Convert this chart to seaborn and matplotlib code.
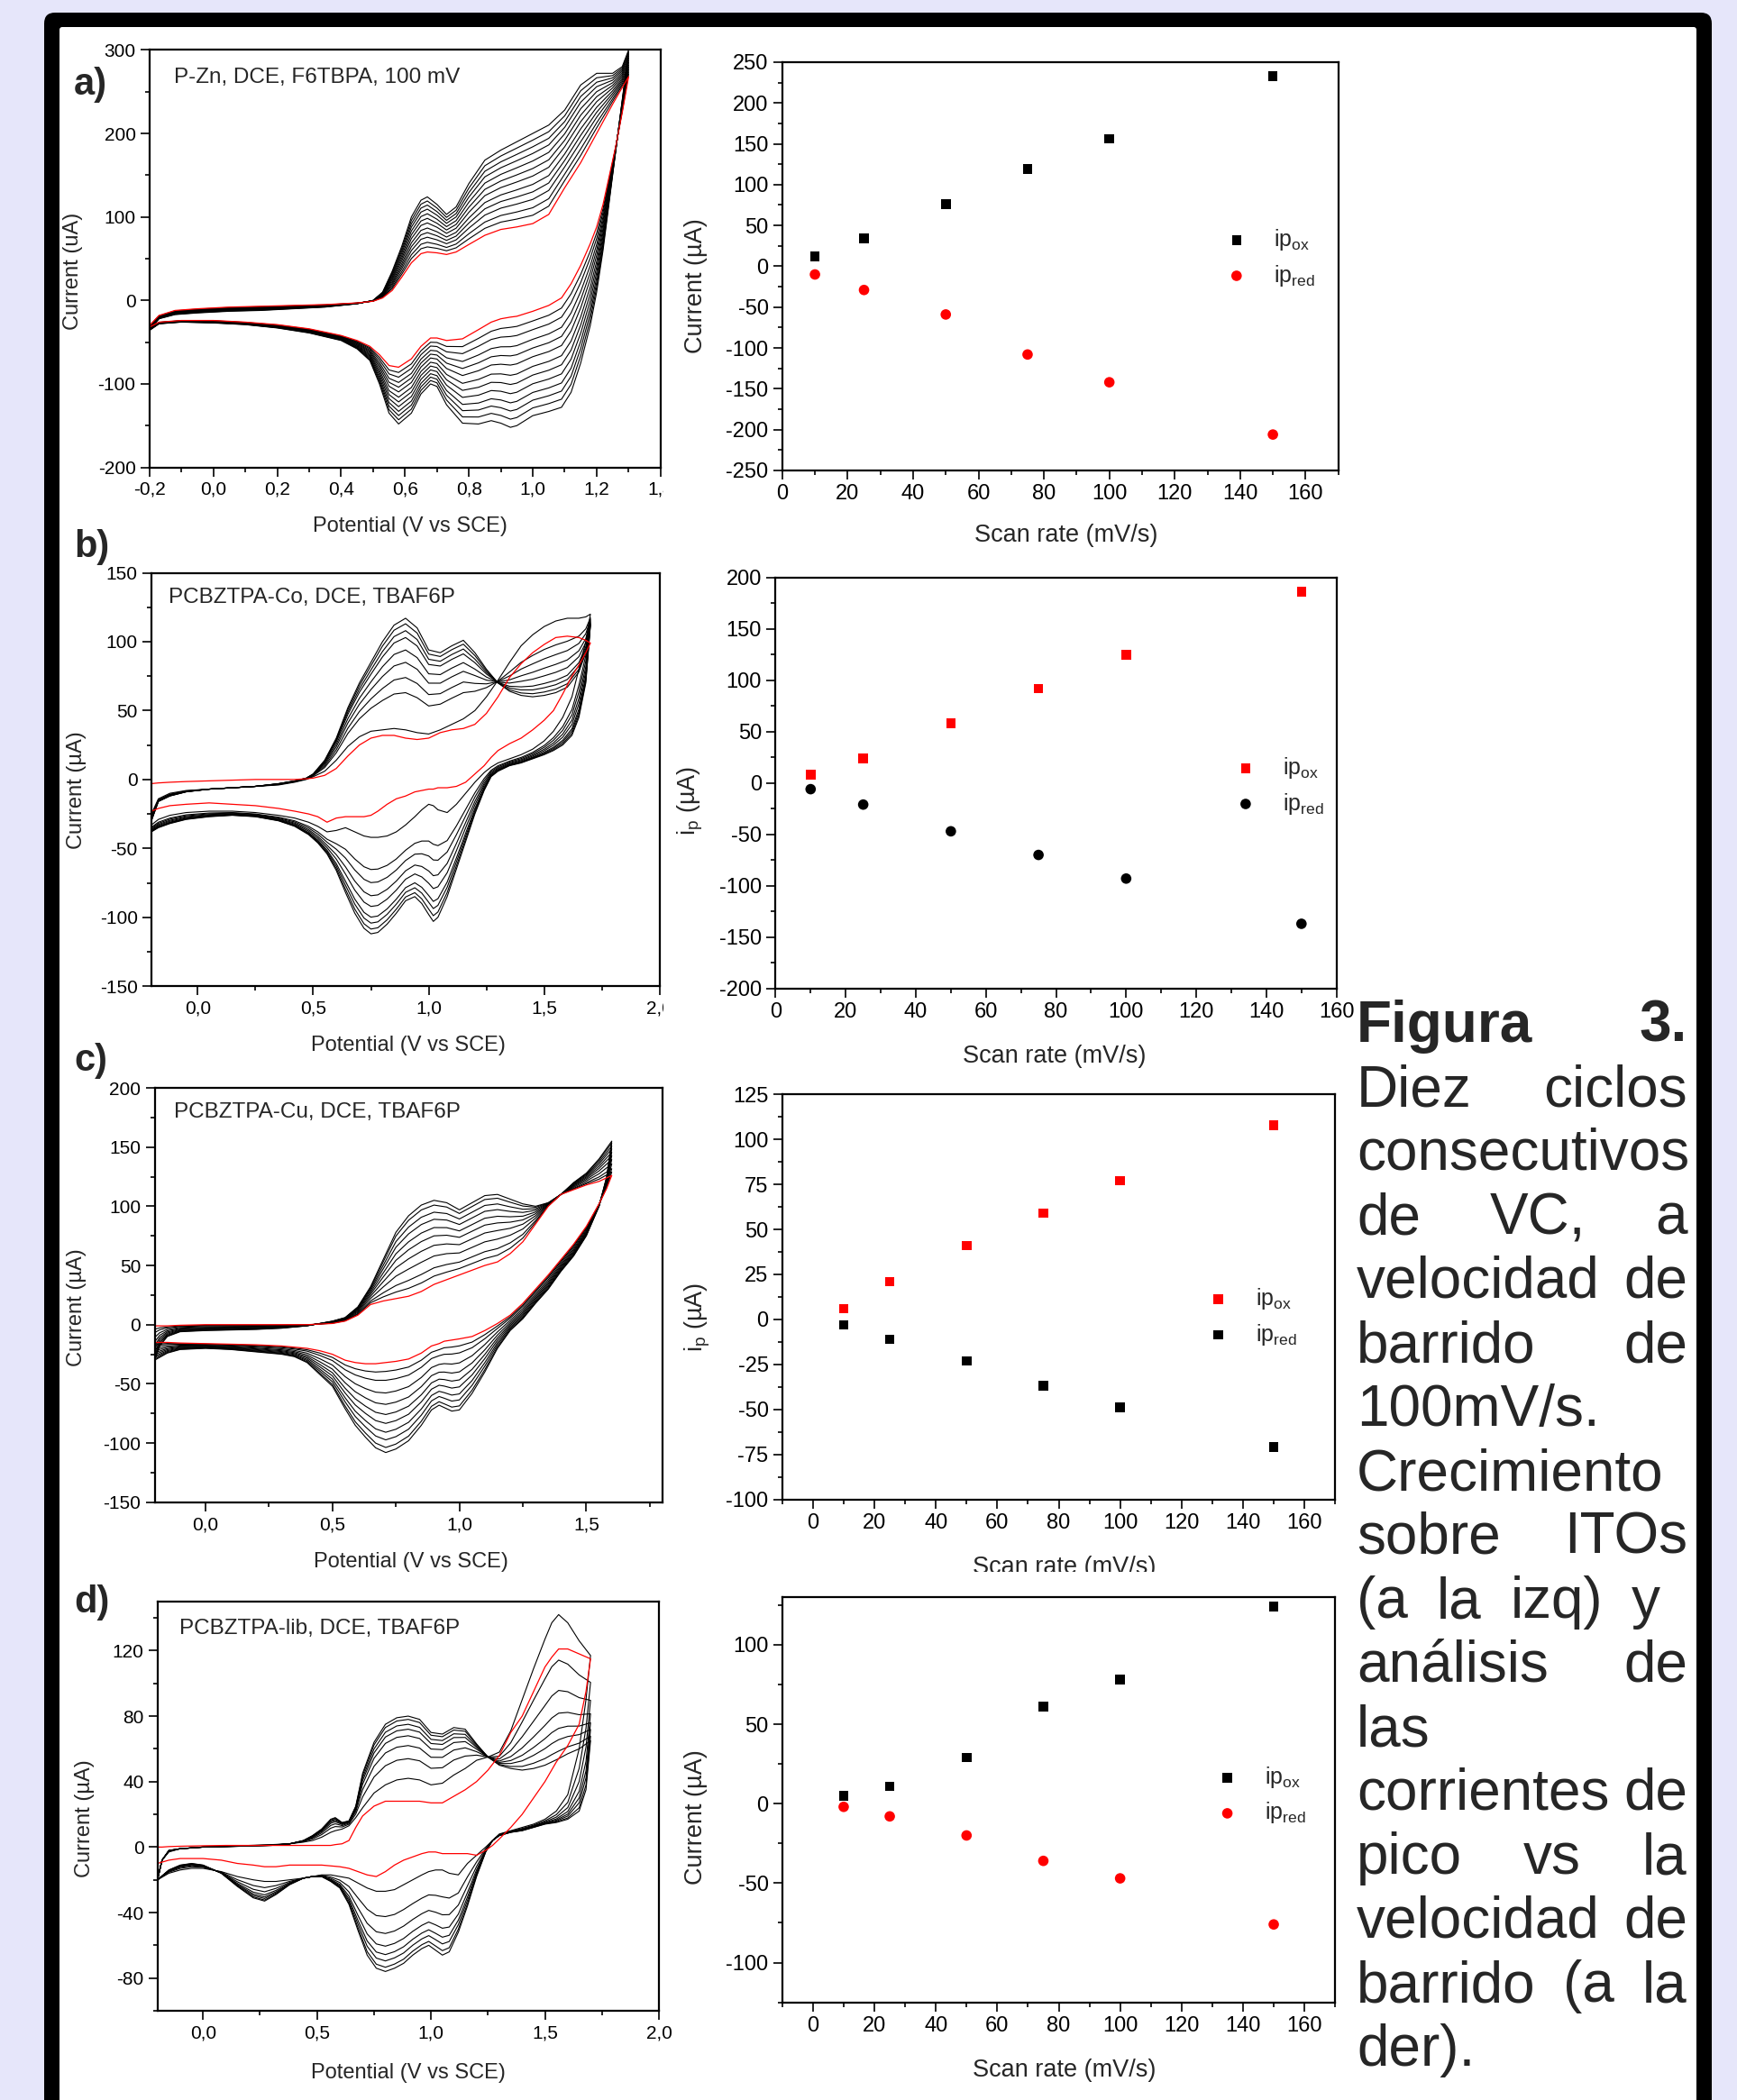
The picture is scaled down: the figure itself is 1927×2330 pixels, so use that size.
import numpy as np
import pandas as pd
import matplotlib
matplotlib.use("Agg")
import matplotlib.pyplot as plt
import seaborn as sns
from matplotlib.ticker import FixedLocator, FuncFormatter
from matplotlib.patches import FancyBboxPatch
from matplotlib.transforms import IdentityTransform, Bbox

# ------------------------------------------------------------------ data
# ---- panel a : P-Zn CV (red = first cycle, outer = last cycle)
Ea_fwd = [-0.20, -0.17, -0.12, -0.05, 0.05, 0.15, 0.25, 0.35, 0.45, 0.50, 0.53, 0.56, 0.59, 0.62, 0.65, 0.67,
          0.70, 0.73, 0.76, 0.80, 0.85, 0.90, 0.95, 1.00, 1.05, 1.10, 1.15, 1.20, 1.25, 1.28, 1.30]
Ia_first_fwd = [-30, -18, -12, -10, -8, -7, -6, -5, -3, -1, 3, 12, 28, 45, 56, 58,
                57, 55, 58, 67, 78, 85, 88, 92, 103, 135, 165, 200, 235, 255, 268]
Ia_last_fwd = [-36, -22, -17, -15, -13, -12, -10, -8, -4, 0, 10, 35, 65, 100, 120, 124,
               115, 103, 112, 140, 168, 180, 190, 200, 210, 228, 258, 272, 272, 280, 300]
Ea_rev = [1.30, 1.28, 1.26, 1.24, 1.22, 1.20, 1.18, 1.15, 1.12, 1.09, 1.05, 1.00, 0.95, 0.93, 0.90, 0.87,
          0.83, 0.78, 0.73, 0.70, 0.68, 0.65, 0.62, 0.58, 0.55, 0.52, 0.49, 0.45, 0.40, 0.30, 0.20, 0.10,
          0.00, -0.10, -0.17, -0.20]
Ia_first_rev = [268, 225, 185, 150, 115, 88, 68, 42, 20, 3, -6, -13, -19, -20, -22, -26,
                -35, -46, -48, -45, -45, -55, -70, -80, -78, -65, -55, -48, -42, -34, -29, -26,
                -24, -24, -26, -32]
Ia_last_rev = [300, 240, 180, 120, 60, 10, -30, -75, -110, -128, -133, -138, -150, -152, -147, -144,
               -148, -147, -125, -103, -100, -112, -135, -148, -135, -100, -72, -58, -48, -39, -33, -29,
               -27, -26, -28, -36]
levels_a = [92, 102, 111, 121, 130, 139, 149, 158, 167, 176, 184, 192, 200]   # anodic current at 1.0 V per cycle

# ---- panel b : PCBZTPA-Co CV
Eb_fwd = [-0.20, -0.17, -0.12, -0.05, 0.05, 0.15, 0.25, 0.35, 0.42, 0.47, 0.50, 0.55, 0.60, 0.65, 0.70, 0.75,
          0.80, 0.85, 0.90, 0.95, 1.00, 1.05, 1.10, 1.15, 1.20, 1.25, 1.30, 1.35, 1.40, 1.45, 1.50, 1.55,
          1.60, 1.65, 1.68, 1.70]
Ib_first_fwd = [-3, -2.5, -2, -1.5, -1, -0.5, 0, 0, 0, 0.5, 1, 3, 8, 17, 25, 30,
                32, 32, 30, 29, 30, 34, 36, 37, 40, 48, 60, 74, 84, 92, 98, 103,
                104, 103, 101, 99]
Ib_second_fwd = [-25, -14, -10, -8, -7, -6, -5, -4, -2, 0, 2, 6, 14, 24, 31, 35,
                 36, 37, 36, 34, 33, 36, 40, 44, 50, 60, 72, 85, 97, 105, 111, 115,
                 117, 117, 118, 120]
Ib_last_fwd = [-30, -16, -12, -9, -7, -6, -5, -3, -1, 1, 4, 14, 30, 52, 70, 85,
               100, 112, 117, 110, 94, 92, 97, 101, 92, 80, 70, 64, 61, 60, 61, 63,
               67, 78, 92, 112]
Eb_rev = [1.70, 1.68, 1.65, 1.62, 1.58, 1.54, 1.50, 1.45, 1.40, 1.35, 1.30, 1.27, 1.24, 1.20, 1.16, 1.12,
          1.08, 1.04, 1.02, 1.00, 0.97, 0.94, 0.90, 0.86, 0.82, 0.78, 0.75, 0.72, 0.68, 0.64, 0.60, 0.56,
          0.52, 0.48, 0.42, 0.35, 0.25, 0.15, 0.05, -0.05, -0.12, -0.17, -0.20]
Ib_first_rev = [99, 92, 83, 75, 62, 50, 43, 36, 30, 26, 21, 16, 10, 4, -2, -5,
                -6, -6, -7, -7, -8, -9, -12, -14, -18, -23, -26, -27, -27, -27, -28, -31,
                -27, -25, -23, -21, -19, -18, -17, -18, -19, -21, -23]
Ib_second_rev = [120, 100, 80, 60, 45, 35, 28, 22, 18, 15, 12, 9, 5, -2, -10, -18,
                 -24, -22, -19, -18, -22, -27, -33, -38, -41, -42, -42, -41, -38, -35, -37, -38,
                 -34, -31, -28, -26, -24, -23, -23, -24, -26, -29, -33]
Ib_last_rev = [112, 70, 45, 32, 25, 21, 18, 15, 12, 10, 6, 2, -8, -25, -45, -65,
               -85, -100, -103, -98, -90, -85, -88, -97, -105, -111, -112, -108, -97, -82, -66, -54,
               -46, -40, -34, -30, -27, -26, -27, -29, -32, -35, -38]
levels_b = [30, 36, 63, 74, 85, 94, 103, 108, 113, 117]   # anodic current at 0.9 V per cycle

# ---- panel c : PCBZTPA-Cu CV
Ec_fwd = [-0.20, -0.18, -0.15, -0.10, 0.00, 0.10, 0.20, 0.30, 0.40, 0.45, 0.50, 0.55, 0.60, 0.65, 0.70, 0.75,
          0.80, 0.85, 0.90, 0.95, 1.00, 1.05, 1.10, 1.15, 1.20, 1.25, 1.30, 1.35, 1.40, 1.45, 1.50, 1.55, 1.60]
Ic_first_fwd = [-1, -1, -1, -0.5, 0, 0, 0, 0, 0, 0.5, 1, 3, 8, 17, 20, 22,
                24, 28, 34, 38, 42, 46, 50, 53, 60, 70, 85, 100, 110, 114, 118, 121, 126]
Ic_last_fwd = [-30, -18, -10, -6, -5, -4.5, -4, -3, -1, 1, 3, 6, 15, 32, 55, 78,
               92, 101, 105, 103, 97, 103, 109, 110, 106, 102, 100, 103, 110, 120, 128, 140, 155]
Ec_rev = [1.60, 1.58, 1.55, 1.50, 1.45, 1.40, 1.35, 1.30, 1.25, 1.20, 1.15, 1.10, 1.05, 1.00, 0.97, 0.94,
          0.92, 0.89, 0.85, 0.80, 0.75, 0.71, 0.67, 0.63, 0.59, 0.55, 0.50, 0.45, 0.40, 0.35, 0.30, 0.20,
          0.10, 0.00, -0.10, -0.15, -0.20]
Ic_first_rev = [126, 115, 102, 83, 68, 55, 42, 30, 18, 8, 1, -5, -10, -12, -13, -14,
                -16, -18, -24, -29, -31, -32, -33, -33, -32, -30, -25, -22, -20, -19, -18, -17,
                -16.5, -16, -15.5, -15, -15]
Ic_last_rev = [155, 125, 100, 75, 58, 45, 30, 18, 5, -5, -20, -40, -58, -72, -73, -70,
               -68, -72, -85, -98, -105, -108, -104, -95, -85, -71, -52, -42, -32, -27, -25, -23,
               -21, -20, -21, -24, -30]
levels_c = [34, 41, 48, 58, 67, 75, 82, 89, 95, 101, 105]   # anodic current at 0.9 V per cycle

# ---- panel d : PCBZTPA-lib CV
Ed_fwd = [-0.20, -0.18, -0.15, -0.10, 0.00, 0.10, 0.20, 0.30, 0.38, 0.44, 0.48, 0.52, 0.56, 0.58, 0.61, 0.64,
          0.67, 0.70, 0.75, 0.80, 0.85, 0.90, 0.95, 1.00, 1.05, 1.10, 1.15, 1.20, 1.25, 1.30, 1.35, 1.40,
          1.45, 1.50, 1.53, 1.56, 1.60, 1.65, 1.70]
Id_first_fwd = [0, 0, 0.3, 0.5, 0.8, 1, 1, 1, 1, 1, 1, 1, 1, 1.5, 2, 4,
                12, 19, 25, 28, 28, 28, 28, 27, 27, 31, 35, 40, 47, 56, 70, 80,
                95, 110, 116, 121, 121, 118, 115]
Id_second_fwd = [-20, -8, -3, -1, 0, 0.5, 1, 1.5, 2, 3, 4, 6, 9, 10, 11, 13,
                 18, 24, 33, 38, 41, 42, 41, 38, 39, 44, 48, 53, 55, 58, 71, 90,
                 109, 127, 137, 142, 137, 126, 117]
Id_last_fwd = [-20, -8, -2, -1, 0, 0.3, 0.6, 1, 2, 4, 7, 11, 17, 18, 15, 16,
               25, 45, 64, 75, 79, 80, 78, 70, 69, 73, 72, 63, 55, 50, 48, 47,
               48, 50, 52, 54, 57, 60, 65]
Ed_rev = [1.70, 1.68, 1.65, 1.60, 1.55, 1.50, 1.45, 1.40, 1.35, 1.30, 1.27, 1.24, 1.20, 1.16, 1.12, 1.08,
          1.05, 1.02, 0.99, 0.96, 0.92, 0.88, 0.84, 0.80, 0.76, 0.72, 0.68, 0.64, 0.60, 0.56, 0.52, 0.48,
          0.44, 0.38, 0.32, 0.27, 0.22, 0.15, 0.08, 0.00, -0.05, -0.10, -0.15, -0.20]
Id_first_rev = [115, 95, 75, 62, 52, 40, 30, 20, 12, 5, 1, -2, -5, -4, -4, -4,
                -4, -3, -3, -4, -6, -8, -11, -15, -18, -17, -15, -13, -12, -11.5, -11, -11,
                -11, -11, -12, -12, -11, -10, -8, -7, -7, -7, -8, -10]
Id_second_rev = [117, 90, 60, 32, 22, 17, 14, 12, 10, 8, 4, 0, -5, -10, -17, -16,
                 -14, -14, -15, -17, -20, -23, -26, -27, -27, -25, -22, -19, -18, -17, -17, -18,
                 -19, -20, -21, -21, -20, -18, -15, -13, -13, -14, -16, -20]
Id_last_rev = [65, 35, 22, 17, 15, 14, 12, 10, 9, 7, 4, -3, -18, -36, -52, -64,
               -66, -63, -60, -62, -66, -71, -74, -76, -74, -66, -51, -35, -25, -21, -18, -18,
               -19, -23, -29, -33, -31, -24, -16, -11, -10, -11, -14, -20]
levels_d = [28, 42, 54, 62, 68, 72, 75, 78, 80]   # anodic current at 0.9 V per cycle

# ---- scan-rate analysis (right column)
scan_rate = [10, 25, 50, 75, 100, 150]
a_ipox = [12, 34, 76, 119, 156, 233]
a_ipred = [-10, -29, -59, -108, -142, -206]
b_ipox = [8, 24, 58, 92, 125, 186]
b_ipred = [-6, -21, -47, -70, -93, -137]
c_ipox = [6, 21, 41, 59, 77, 108]
c_ipred = [-3, -11, -23, -37, -49, -71]
d_ipox = [5, 11, 29, 61, 78, 124]
d_ipred = [-2, -8, -20, -36, -47, -76]

titles = ["P-Zn, DCE, F6TBPA, 100 mV", "PCBZTPA-Co, DCE, TBAF6P",
          "PCBZTPA-Cu, DCE, TBAF6P", "PCBZTPA-lib, DCE, TBAF6P"]

caption = [
    (["Figura", "3."], "bold", 1872),
    (["Diez", "ciclos"], "normal", 1872),
    (["consecutivos"], "normal", None),
    (["de", "VC,", "a"], "normal", 1872),
    (["velocidad", "de"], "normal", 1872),
    (["barrido", "de"], "normal", 1872),
    (["100mV/s."], "normal", None),
    (["Crecimiento"], "normal", None),
    (["sobre", "ITOs"], "normal", 1872),
    (["(a", "la", "izq)", "y"], "normal", 1842),
    (["análisis", "de"], "normal", 1872),
    (["las"], "normal", None),
    (["corrientes", "de"], "normal", 1872),
    (["pico", "vs", "la"], "normal", 1872),
    (["velocidad", "de"], "normal", 1872),
    (["barrido", "(a", "la"], "normal", 1872),
    (["der)."], "normal", None),
]

# ------------------------------------------------------------------ style
sns.set_style("ticks")
plt.rcParams["font.family"] = ["Liberation Sans", "DejaVu Sans"]
plt.rcParams["mathtext.fontset"] = "custom"
plt.rcParams["mathtext.rm"] = "Liberation Sans"
plt.rcParams["mathtext.it"] = "Liberation Sans:italic"
plt.rcParams["mathtext.bf"] = "Liberation Sans:bold"

W, H = 1927, 2330
RED = "#ff0000"
fig = plt.figure(figsize=(W / 100, H / 100), dpi=100)
fig.patch.set_facecolor("#e6e6fa")

# frame: black rounded border with white page
fig.add_artist(FancyBboxPatch((49, -30), 1850, H - 14 + 30, boxstyle="round,pad=0,rounding_size=12",
                              transform=IdentityTransform(), facecolor="black", edgecolor="none", zorder=-10))
fig.add_artist(FancyBboxPatch((66, -30), 1816, H - 30 + 30, boxstyle="round,pad=0,rounding_size=3",
                              transform=IdentityTransform(), facecolor="white", edgecolor="none", zorder=-9))


def add_ax(l, r, t, b):
    ax = fig.add_axes([l / W, 1 - b / H, (r - l) / W, (b - t) / H])
    ax.set_facecolor("white")
    return ax


def comma(v, p):
    return f"{v:.1f}".replace(".", ",")


def integer(v, p):
    return f"{v:.0f}"


def style(ax, xlim, ylim, xmaj, xmin, ymaj, ymin, xfmt, fs):
    ax.set_xlim(xlim)
    ax.set_ylim(ylim)
    ax.xaxis.set_major_locator(FixedLocator(xmaj))
    ax.xaxis.set_minor_locator(FixedLocator(xmin))
    ax.yaxis.set_major_locator(FixedLocator(ymaj))
    ax.yaxis.set_minor_locator(FixedLocator(ymin))
    ax.xaxis.set_major_formatter(FuncFormatter(xfmt))
    ax.yaxis.set_major_formatter(FuncFormatter(integer))
    ax.tick_params(which="both", direction="out", top=False, right=False, width=1.2,
                   labelsize=fs, pad=4, colors="black")
    ax.tick_params(which="major", length=7)
    ax.tick_params(which="minor", length=3.8)
    for s in ax.spines.values():
        s.set_visible(True)
        s.set_linewidth(1.6)
        s.set_color("black")


def cycles_frame(E_f, E_r, lo_f, lo_r, hi_f, hi_r, lvl_lo, lvl_hi, levels):
    rows = []
    E = np.concatenate([E_f, E_r])
    lo = np.concatenate([lo_f, lo_r])
    hi = np.concatenate([hi_f, hi_r])
    for k, L in enumerate(levels):
        f = (L - lvl_lo) / (lvl_hi - lvl_lo)
        cur = lo + f * (hi - lo)
        rows.append(pd.DataFrame({"E": E, "I": cur, "cycle": k, "step": np.arange(len(E))}))
    return pd.concat(rows, ignore_index=True)


def draw_cv(ax, E_f, E_r, first_f, first_r, black_df):
    sns.lineplot(data=black_df, x="E", y="I", units="cycle", estimator=None, sort=False,
                 color="black", lw=0.8, ax=ax, legend=False)
    red_df = pd.DataFrame({"E": np.concatenate([E_f, E_r]), "I": np.concatenate([first_f, first_r])})
    sns.lineplot(data=red_df, x="E", y="I", estimator=None, sort=False, color=RED, lw=0.9,
                 ax=ax, legend=False)


def draw_sr(ax, ox, red, ox_col, red_col, ox_mk, red_mk):
    sns.scatterplot(x=scan_rate, y=ox, marker=ox_mk, s=58 if ox_mk == "s" else 70, color=ox_col,
                    edgecolor="none", linewidth=0, label=r"ip$_{\mathrm{ox}}$", ax=ax)
    sns.scatterplot(x=scan_rate, y=red, marker=red_mk, s=58 if red_mk == "s" else 70, color=red_col,
                    edgecolor="none", linewidth=0, label=r"ip$_{\mathrm{red}}$", ax=ax)


def legend(ax, xm, yc):
    fs = 18
    px = fs * 100 / 72
    handlelength = 1.0
    hx = xm - 0.5 * handlelength * px / ax.bbox.width * 1.0
    leg = ax.legend(loc="center left", bbox_to_anchor=(hx, yc), frameon=False, fontsize=fs,
                    handlelength=handlelength, handletextpad=1.15, borderpad=0, borderaxespad=0,
                    labelspacing=0.45, markerscale=1.0)
    return leg


CV_FS, SR_FS = 15, 17
CV_LAB, SR_LAB = 17, 19.5

# ------------------------------------------------------------------ panel a
ax = add_ax(165.8, 732.8, 55.4, 518.6)
dfa = cycles_frame(Ea_fwd, Ea_rev, Ia_first_fwd, Ia_first_rev, Ia_last_fwd, Ia_last_rev,
                   levels_a[0], levels_a[-1], levels_a[1:])
draw_cv(ax, Ea_fwd, Ea_rev, Ia_first_fwd, Ia_first_rev, dfa)
style(ax, (-0.2, 1.4), (-200, 300), np.arange(-0.2, 1.41, 0.2), np.arange(-0.1, 1.4, 0.2),
      np.arange(-200, 301, 100), np.arange(-150, 300, 100), comma, CV_FS)
ax.set_xlabel("Potential (V vs SCE)", fontsize=CV_LAB, va="top")
ax.set_ylabel("Current (uA)", fontsize=CV_LAB)
ax.xaxis.set_label_coords(0.51, -0.118)
ax.yaxis.set_label_coords(-0.13, 0.47)
ax.text(0.0474, 0.9216, titles[0], transform=ax.transAxes, fontsize=17.5, va="baseline")
axa = ax

ax = add_ax(867.8, 1484.7, 68.9, 522)
draw_sr(ax, a_ipox, a_ipred, "black", RED, "s", "o")
style(ax, (0, 170), (-250, 250), np.arange(0, 161, 20), np.arange(10, 171, 20),
      np.arange(-250, 251, 50), np.arange(-225, 250, 50), integer, SR_FS)
ax.set_xlabel("Scan rate (mV/s)", fontsize=SR_LAB, va="top")
ax.set_ylabel("Current (µA)", fontsize=SR_LAB)
ax.xaxis.set_label_coords(0.51, -0.13)
ax.yaxis.set_label_coords(-0.134, 0.453)
legend(ax, 0.817, 0.521)

# ------------------------------------------------------------------ panel b
ax = add_ax(168, 731.9, 635.5, 1094.2)
dfb = cycles_frame(Eb_fwd, Eb_rev, Ib_second_fwd, Ib_second_rev, Ib_last_fwd, Ib_last_rev,
                   levels_b[1], levels_b[-1], levels_b[1:])
draw_cv(ax, Eb_fwd, Eb_rev, Ib_first_fwd, Ib_first_rev, dfb)
style(ax, (-0.2, 2.0), (-150, 150), [0.0, 0.5, 1.0, 1.5, 2.0], [-0.25, 0.25, 0.75, 1.25, 1.75],
      np.arange(-150, 151, 50), np.arange(-125, 150, 50), comma, CV_FS)
ax.set_xlabel("Potential (V vs SCE)", fontsize=CV_LAB, va="top")
ax.set_ylabel("Current (µA)", fontsize=CV_LAB)
ax.xaxis.set_label_coords(0.505, -0.12)
ax.yaxis.set_label_coords(-0.128, 0.474)
ax.text(0.034, 0.928, titles[1], transform=ax.transAxes, fontsize=17.5, va="baseline")
axb = ax

ax = add_ax(860.4, 1482.7, 640.7, 1096.8)
draw_sr(ax, b_ipox, b_ipred, RED, "black", "s", "o")
style(ax, (0, 160), (-200, 200), np.arange(0, 161, 20), np.arange(10, 160, 20),
      np.arange(-200, 201, 50), np.arange(-175, 200, 50), integer, SR_FS)
ax.set_xlabel("Scan rate (mV/s)", fontsize=SR_LAB, va="top")
ax.set_ylabel(r"i$_{\mathrm{p}}$ (µA)", fontsize=SR_LAB)
ax.xaxis.set_label_coords(0.497, -0.136)
ax.yaxis.set_label_coords(-0.126, 0.456)
legend(ax, 0.838, 0.493)

# ------------------------------------------------------------------ panel c
ax = add_ax(171.6, 735, 1207, 1666.8)
dfc = cycles_frame(Ec_fwd, Ec_rev, Ic_first_fwd, Ic_first_rev, Ic_last_fwd, Ic_last_rev,
                   levels_c[0], levels_c[-1], levels_c[1:])
draw_cv(ax, Ec_fwd, Ec_rev, Ic_first_fwd, Ic_first_rev, dfc)
style(ax, (-0.2, 1.8), (-150, 200), [0.0, 0.5, 1.0, 1.5], [0.25, 0.75, 1.25, 1.75],
      np.arange(-150, 201, 50), np.arange(-125, 200, 50), comma, CV_FS)
ax.set_xlabel("Potential (V vs SCE)", fontsize=CV_LAB, va="top")
ax.set_ylabel("Current (µA)", fontsize=CV_LAB)
ax.xaxis.set_label_coords(0.505, -0.12)
ax.yaxis.set_label_coords(-0.134, 0.47)
ax.text(0.0373, 0.929, titles[2], transform=ax.transAxes, fontsize=17.5, va="baseline")

ax = add_ax(867.8, 1481.2, 1214.4, 1663.5)
draw_sr(ax, c_ipox, c_ipred, RED, "black", "s", "s")
style(ax, (-10, 170), (-100, 125), np.arange(0, 161, 20), np.arange(-10, 171, 20),
      np.arange(-100, 126, 25), np.arange(-87.5, 125, 25), integer, SR_FS)
ax.set_xlabel("Scan rate (mV/s)", fontsize=SR_LAB, va="top")
ax.set_ylabel(r"i$_{\mathrm{p}}$ (µA)", fontsize=SR_LAB)
ax.xaxis.set_label_coords(0.51, -0.14)
ax.yaxis.set_label_coords(-0.127, 0.449)
legend(ax, 0.789, 0.451)
axc_sr = ax

# ------------------------------------------------------------------ panel d
ax = add_ax(174.7, 731, 1776.9, 2231)
dfd = cycles_frame(Ed_fwd, Ed_rev, Id_second_fwd, Id_second_rev, Id_last_fwd, Id_last_rev,
                   levels_d[1], levels_d[-1], levels_d[1:])
draw_cv(ax, Ed_fwd, Ed_rev, Id_first_fwd, Id_first_rev, dfd)
style(ax, (-0.2, 2.0), (-100, 150), [0.0, 0.5, 1.0, 1.5, 2.0], [-0.25, 0.25, 0.75, 1.25, 1.75],
      np.arange(-80, 121, 40), np.arange(-100, 150, 40), comma, CV_FS)
ax.set_xlabel("Potential (V vs SCE)", fontsize=CV_LAB, va="top")
ax.set_ylabel("Current (µA)", fontsize=CV_LAB)
ax.xaxis.set_label_coords(0.5, -0.128)
ax.yaxis.set_label_coords(-0.125, 0.469)
ax.text(0.0442, 0.9196, titles[3], transform=ax.transAxes, fontsize=17.5, va="baseline")

ax = add_ax(867.8, 1481.2, 1772, 2221.6)
draw_sr(ax, d_ipox, d_ipred, "black", RED, "s", "o")
style(ax, (-10, 170), (-125, 130), np.arange(0, 161, 20), np.arange(-10, 171, 20),
      np.arange(-100, 101, 50), np.arange(-125, 130, 50), integer, SR_FS)
ax.set_xlabel("Scan rate (mV/s)", fontsize=SR_LAB, va="top")
ax.set_ylabel("Current (µA)", fontsize=SR_LAB)
ax.xaxis.set_label_coords(0.51, -0.139)
ax.yaxis.set_label_coords(-0.135, 0.457)
legend(ax, 0.805, 0.511)

# ------------------------------------------------------------------ panel letters
for lab, yb in zip(["a)", "b)", "c)", "d)"], [105, 618, 1188, 1789]):
    fig.text(82 / W, 1 - yb / H, lab, fontsize=30, fontweight="bold", va="baseline", ha="left")

# ------------------------------------------------------------------ caption (justified)
renderer = fig.canvas.get_renderer()
x_left = 1505
for i, (words, weight, right) in enumerate(caption):
    yb = 1156 + i * 71.0
    texts = [fig.text(0, 0, w, fontsize=46, fontweight=weight, va="baseline", ha="left") for w in words]
    if right is None or len(words) == 1:
        texts[0].set_text(" ".join(words))
        texts[0].set_position((x_left / W, 1 - yb / H))
        continue
    widths = [t.get_window_extent(renderer).width for t in texts]
    gap = (right - x_left - sum(widths)) / (len(words) - 1)
    x = x_left
    for t, w in zip(texts, widths):
        t.set_position((x / W, 1 - yb / H))
        x += w + gap

# ------------------------------------------------------------------ clipping like the pasted images
fig.canvas.draw()
clip_right = Bbox.from_extents(0, 0, 736, H)
for a in (axa, axb):
    for tk in a.xaxis.get_major_ticks():
        tk.label1.set_clip_box(clip_right)
        tk.label1.set_clip_on(True)
axc_sr.xaxis.label.set_clip_box(Bbox.from_extents(0, H - 1744, W, H))
axc_sr.xaxis.label.set_clip_on(True)

fig.savefig("out.png", dpi=100, facecolor=fig.get_facecolor())
